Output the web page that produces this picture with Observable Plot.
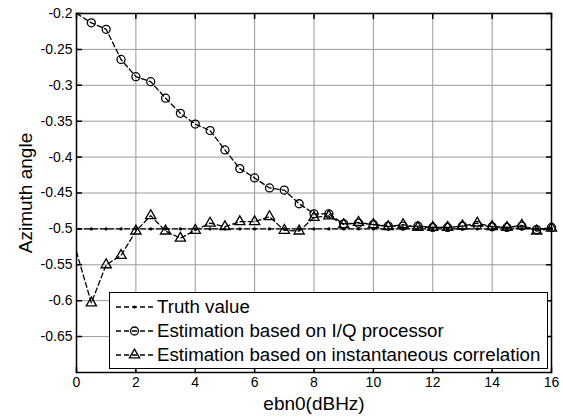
<!DOCTYPE html>
<html>
<head>
<meta charset="utf-8">
<script src="https://cdn.jsdelivr.net/npm/d3@7"></script>
<script src="https://cdn.jsdelivr.net/npm/@observablehq/plot@0.6"></script>
<style>
  html, body { margin: 0; padding: 0; background: #fff; }
  #wrap { position: relative; width: 563px; height: 417px; font-family: Arial, "Liberation Sans", sans-serif; }
  #legend { position: absolute; left: 109px; top: 292px; width: 439px; height: 77px; box-sizing: border-box;
            border: 1.5px solid #000; background: #fff; padding-top: 2px; }
  .row { height: 24px; display: flex; align-items: center; font-size: 18.7px; color: #000; }
  .row svg { margin-left: 6px; margin-right: 4px; flex: none; }
</style>
</head>
<body>
<div id="wrap"></div>
<script>
// ---- data ----
const ebn0 = [0, 0.5, 1, 1.5, 2, 2.5, 3, 3.5, 4, 4.5, 5, 5.5, 6, 6.5, 7, 7.5, 8, 8.5,
              9, 9.5, 10, 10.5, 11, 11.5, 12, 12.5, 13, 13.5, 14, 14.5, 15, 15.5, 16];
const truthValue = [-0.5, -0.5, -0.5, -0.5, -0.5, -0.5, -0.5, -0.5, -0.5, -0.5, -0.5, -0.5,
                    -0.5, -0.5, -0.5, -0.5, -0.5, -0.5, -0.5, -0.5, -0.5, -0.5, -0.5, -0.5,
                    -0.5, -0.5, -0.5, -0.5, -0.5, -0.5, -0.5, -0.5, -0.5];
const iqEstimate = [-0.200, -0.213, -0.222, -0.264, -0.288, -0.295, -0.318, -0.339, -0.354,
                    -0.363, -0.390, -0.416, -0.429, -0.443, -0.446, -0.465, -0.479, -0.479,
                    -0.493, -0.492, -0.494, -0.496, -0.496, -0.496, -0.498, -0.498, -0.496,
                    -0.495, -0.497, -0.498, -0.496, -0.501, -0.498];
const corrEstimate = [-0.532, -0.603, -0.550, -0.537, -0.503, -0.4815, -0.503, -0.513, -0.502,
                      -0.492, -0.497, -0.490, -0.490, -0.483, -0.502, -0.503, -0.484, -0.482,
                      -0.494, -0.491, -0.494, -0.497, -0.494, -0.498, -0.498, -0.498, -0.496,
                      -0.492, -0.497, -0.498, -0.495, -0.503, -0.499];
const xTicks = [0, 2, 4, 6, 8, 10, 12, 14, 16];
const yTicks = [-0.65, -0.6, -0.55, -0.5, -0.45, -0.4, -0.35, -0.3, -0.25, -0.2];
const legendLabels = ["Truth value", "Estimation based on I/Q processor",
                      "Estimation based on instantaneous correlation"];

const rows = ebn0.map((x, i) => ({x, truth: truthValue[i], iq: iqEstimate[i], corr: corrEstimate[i]}));
const shown = rows.filter(d => d.x > 0);

const fmt = d => String(+d.toFixed(2));
const dash = "5,3";
const tickShape = {draw(ctx, l) { ctx.moveTo(0, 0); ctx.lineTo(0, -l); }};

const chart = Plot.plot({
  width: 563,
  height: 417,
  marginLeft: 76,
  marginRight: 12,
  marginTop: 13,
  marginBottom: 45,
  style: {fontFamily: 'Arial, "Liberation Sans", sans-serif', fontSize: "14px", color: "#000", background: "#fff"},
  x: {domain: [0, 16], ticks: xTicks},
  y: {domain: [-0.7, -0.2], ticks: yTicks},
  marks: [
    Plot.gridX(xTicks, {stroke: "#999", strokeOpacity: 1}),
    Plot.gridY(yTicks, {stroke: "#999", strokeOpacity: 1}),
    // inward ticks on all four sides
    Plot.vector(xTicks, {x: d => d, frameAnchor: "bottom", length: 5, rotate: 0, anchor: "start", shape: tickShape, stroke: "#000"}),
    Plot.vector(xTicks, {x: d => d, frameAnchor: "top", length: 5, rotate: 180, anchor: "start", shape: tickShape, stroke: "#000"}),
    Plot.vector(yTicks, {y: d => d, frameAnchor: "left", length: 5, rotate: 90, anchor: "start", shape: tickShape, stroke: "#000"}),
    Plot.vector(yTicks, {y: d => d, frameAnchor: "right", length: 5, rotate: -90, anchor: "start", shape: tickShape, stroke: "#000"}),
    Plot.axisX({ticks: xTicks, tickSize: 0, tickPadding: 5, tickFormat: fmt, fontSize: 14,
                label: "ebn0(dBHz)", labelArrow: false, labelAnchor: "center", labelOffset: 37}),
    Plot.axisY({ticks: yTicks, tickSize: 0, tickPadding: 4, tickFormat: fmt, fontSize: 14,
                label: "Azimuth angle", labelArrow: false, labelAnchor: "center", labelOffset: 58}),
    Plot.line(rows, {x: "x", y: "truth", stroke: "#000", strokeWidth: 1.3, strokeDasharray: dash}),
    Plot.line(rows, {x: "x", y: "iq", stroke: "#000", strokeWidth: 1.3, strokeDasharray: dash}),
    Plot.line(rows, {x: "x", y: "corr", stroke: "#000", strokeWidth: 1.3, strokeDasharray: dash}),
    Plot.dot(shown, {x: "x", y: "truth", r: 1.6, fill: "#000", stroke: "none"}),
    Plot.dot(shown, {x: "x", y: "iq", r: 4, symbol: "circle", fill: "none", stroke: "#000", strokeWidth: 1.3}),
    Plot.dot(shown, {x: "x", y: "corr", r: 3.8, symbol: "triangle", fill: "none", stroke: "#000", strokeWidth: 1.3}),
    Plot.frame({stroke: "#000", strokeWidth: 1.5})
  ]
});

// axis label font size; strip any arrow that a Plot build may still add
chart.querySelectorAll('[aria-label="x-axis label"], [aria-label="y-axis label"]').forEach(g => {
  g.setAttribute("font-size", "19");
  g.querySelectorAll("text").forEach(t => { t.textContent = t.textContent.replace(/\s*[→↑←↓]\s*/g, "").trim(); });
});

const wrap = document.getElementById("wrap");
wrap.appendChild(chart);

// legend (inside the plot, bottom right)
const legend = document.createElement("div");
legend.id = "legend";
const samples = ["dot", "circle", "triangle"];
legendLabels.forEach((label, i) => {
  const row = document.createElement("div");
  row.className = "row";
  const s = d3.create("svg").attr("width", 37).attr("height", 14);
  s.append("line").attr("x1", 0).attr("x2", 37).attr("y1", 7).attr("y2", 7)
    .attr("stroke", "#000").attr("stroke-width", 1.3).attr("stroke-dasharray", dash);
  if (samples[i] === "dot") {
    s.append("circle").attr("cx", 18.5).attr("cy", 7).attr("r", 1.6).attr("fill", "#000");
  } else if (samples[i] === "circle") {
    s.append("circle").attr("cx", 18.5).attr("cy", 7).attr("r", 4).attr("fill", "none").attr("stroke", "#000").attr("stroke-width", 1.3);
  } else {
    s.append("path").attr("d", d3.symbol(d3.symbolTriangle, Math.PI * 3.8 * 3.8)()).attr("transform", "translate(18.5,7)")
      .attr("fill", "none").attr("stroke", "#000").attr("stroke-width", 1.3);
  }
  row.appendChild(s.node());
  const t = document.createElement("span");
  t.textContent = label;
  row.appendChild(t);
  legend.appendChild(row);
});
wrap.appendChild(legend);
</script>
</body>
</html>
